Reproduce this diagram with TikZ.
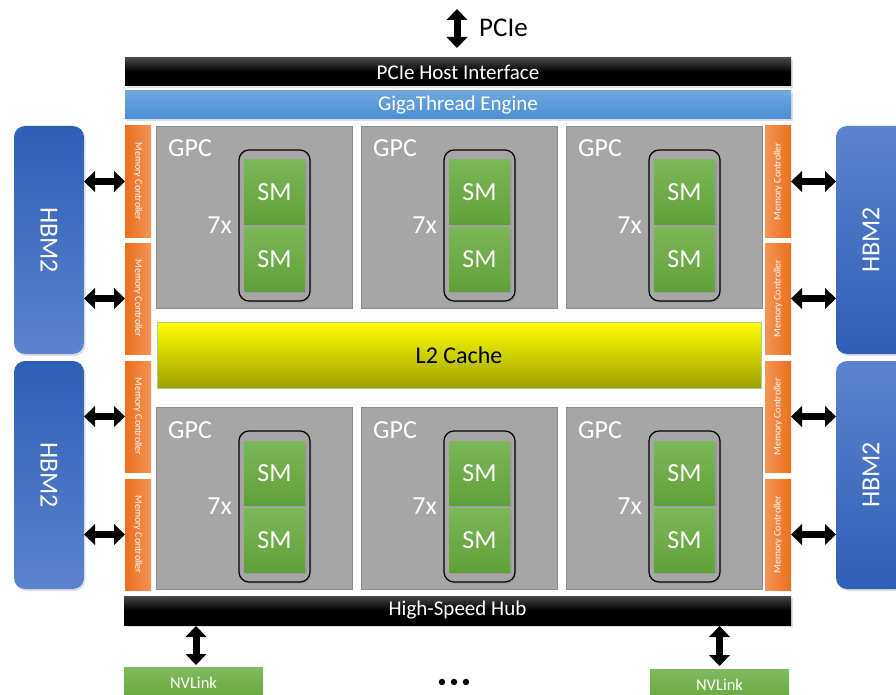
\documentclass[tikz,border=0pt]{standalone}
\usepackage{fontspec}
\setmainfont{Carlito}
\usetikzlibrary{arrows.meta,shadows}
\definecolor{gpcgray}{RGB}{166,166,166}
\definecolor{gpcedge}{RGB}{140,140,140}
\definecolor{smtop}{RGB}{124,183,90}
\definecolor{smbot}{RGB}{96,160,56}
\definecolor{hbmdark}{RGB}{47,94,184}
\definecolor{hbmlight}{RGB}{92,132,205}
\definecolor{mcdark}{RGB}{233,112,30}
\definecolor{mclight}{RGB}{244,148,84}
\definecolor{gttop}{RGB}{112,168,221}
\definecolor{gtbot}{RGB}{72,142,213}
\definecolor{l2top}{RGB}{255,255,0}
\definecolor{l2bot}{RGB}{158,160,0}
\definecolor{l2edge}{RGB}{169,209,142}
\definecolor{nvtop}{RGB}{128,186,96}
\definecolor{nvbot}{RGB}{104,168,60}
\tikzset{
  shd/.style={drop shadow={opacity=0.25,shadow xshift=1.5pt,shadow yshift=-2pt}},
  blk/.style={inner sep=0pt,outer sep=0pt,anchor=north west,text=white},
  bar/.style={blk,shd,top color=black!72,bottom color=black,middle color=black,minimum width=666,minimum height=28,font=\fontsize{21}{24}\selectfont},
  gtbar/.style={blk,shd,top color=gttop,bottom color=gtbot,minimum width=666,minimum height=28,font=\fontsize{21}{24}\selectfont},
  mcL/.style={blk,left color=mcdark,right color=mclight,minimum width=26,minimum height=111},
  mcR/.style={blk,left color=mclight,right color=mcdark,minimum width=26,minimum height=111},
  mctext/.style={inner sep=0pt,text=white,font=\fontsize{10}{12}\selectfont},
  hbmL/.style={blk,shd,rounded corners=11pt,top color=hbmdark,bottom color=hbmlight,minimum width=70,minimum height=228},
  hbmR/.style={blk,shd,rounded corners=11pt,top color=hbmlight,bottom color=hbmdark,minimum width=70,minimum height=228},
  hbmtext/.style={inner sep=0pt,text=white,font=\fontsize{26}{30}\selectfont},
  gpc/.style={blk,fill=gpcgray,draw=gpcedge,line width=0.9pt,minimum width=196,minimum height=182},
  gpclabel/.style={inner sep=0pt,text=white,font=\fontsize{26}{30}\selectfont},
  smgroup/.style={blk,shd,fill=gpcgray,draw=black,line width=1.2pt,rounded corners=10pt,minimum width=71,minimum height=151},
  smbox/.style={blk,shd,top color=smtop,bottom color=smbot,minimum width=61,minimum height=64,font=\fontsize{26}{30}\selectfont},
  l2/.style={blk,top color=l2top,bottom color=l2bot,draw=l2edge,line width=0.8pt,minimum width=604,minimum height=66,text=black,font=\fontsize{24}{28}\selectfont},
  nv/.style={blk,top color=nvtop,bottom color=nvbot,minimum width=139,minimum height=32,font=\fontsize{16.5}{19}\selectfont},
  dbl/.style={line width=7pt,arrows={Triangle[length=11pt,width=21pt,line width=0pt]-Triangle[length=11pt,width=21pt,line width=0pt]}},
}
\begin{document}
\begin{tikzpicture}[x=1pt,y=-1pt]
\useasboundingbox (0,0) rectangle (896,695);
\fill[white] (0,0) rectangle (896,695);
% top bars
\node[bar] (host) at (125,58) {PCIe Host Interface};
\node[gtbar] (giga) at (125,91) {GigaThread Engine};
% PCIe arrow
\coordinate (pcieend) at (457,9);
\draw[dbl,shorten >=10pt] (pcieend) -- (pcieend |- host.north);
\node[inner sep=0pt,anchor=base west,font=\fontsize{27}{30}\selectfont] (pcie) at (479,37) {PCIe};
% GPCs
\foreach \i/\x in {1/156,2/361,3/566}{
  \foreach \j/\y in {1/126,2/407}{
    \node[gpc] (gpc\i\j) at (\x,\y) {};
    \node[gpclabel,anchor=base west] (gpct\i\j) at (\x+12,\y+31) {GPC};
    \node[smgroup] (grp\i\j) at (\x+83,\y+24) {};
    \node[smbox] (sma\i\j) at (\x+88,\y+34) {SM};
    \node[smbox] (smb\i\j) at (\x+88,\y+101) {SM};
    \node[gpclabel,anchor=east] (sev\i\j) at (\x+76,\y+99) {7x};
  }
}
% L2
\node[l2] (l2c) at (157,322) {L2 Cache};
% memory controllers
\foreach \k/\y in {1/126,2/243,3/361,4/479}{
  \node[mcL] (mcl\k) at (125,\y) {};
  \node[mctext,rotate=-90] at (mcl\k.center) {Memory Controller};
  \node[mcR] (mcr\k) at (765,\y) {};
  \node[mctext,rotate=90] at (mcr\k.center) {Memory Controller};
}
% HBM2
\node[hbmL] (hbml1) at (14,126) {};
\node[hbmL] (hbml2) at (14,361) {};
\node[hbmR] (hbmr1) at (836,126) {};
\node[hbmR] (hbmr2) at (836,361) {};
\foreach \n in {hbml1,hbml2}{\node[hbmtext,rotate=-90] at (\n.center) {HBM2};}
\foreach \n in {hbmr1,hbmr2}{\node[hbmtext,rotate=90] at (\n.center) {HBM2};}
% memory arrows
\draw[dbl] (mcl1.west) -- (mcl1.west -| hbml1.east);
\draw[dbl] (mcl2.west) -- (mcl2.west -| hbml1.east);
\draw[dbl] (mcl3.west) -- (mcl3.west -| hbml2.east);
\draw[dbl] (mcl4.west) -- (mcl4.west -| hbml2.east);
\draw[dbl] (mcr1.east) -- (mcr1.east -| hbmr1.west);
\draw[dbl] (mcr2.east) -- (mcr2.east -| hbmr1.west);
\draw[dbl] (mcr3.east) -- (mcr3.east -| hbmr2.west);
\draw[dbl] (mcr4.east) -- (mcr4.east -| hbmr2.west);
% hub
\node[bar,minimum width=667,minimum height=29] (hub) at (124,596) {High-Speed Hub};
% NVLink
\node[nv] (nvl) at (124,667) {NVLink};
\node[nv] (nvr) at (650,669) {NVLink};
\draw[dbl,shorten <=1pt,shorten >=2pt] (hub.south -| 196,0) -- (nvl.north -| 196,0);
\draw[dbl,shorten <=1pt,shorten >=3pt] (hub.south -| nvr.north) -- (nvr.north);
% dots
\foreach \dx in {442,454,466}{\fill (\dx,682) circle (3.2pt);}
\end{tikzpicture}
\end{document}
